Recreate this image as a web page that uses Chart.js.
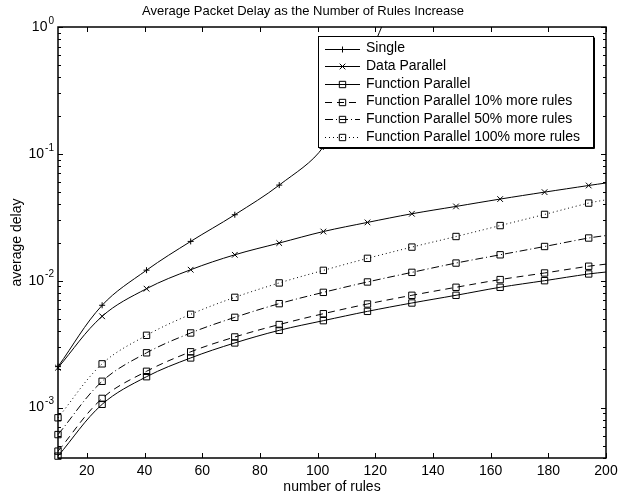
<!DOCTYPE html>
<html>
<head>
<meta charset="utf-8">
<script src="https://cdn.jsdelivr.net/npm/chart.js@4/dist/chart.umd.min.js"></script>
<style>
  body { margin: 0; background: #fff; }
  canvas { display: block; }
</style>
</head>
<body>
<canvas id="viz" width="618" height="497"></canvas>
<script>
// rules on the x axis (last entry only closes the lines at the right edge, no marker)
const rules = [10, 25.3, 40.7, 56, 71.3, 86.7, 102, 117.3, 132.7, 148, 163.3, 178.7, 194, 200];

// average delay per configuration
const single = [0.0021, 0.0064, 0.0121, 0.0204, 0.0331, 0.0567, 0.1135, 0.55, 4];
const dataParallel = [0.00206, 0.00524, 0.00865, 0.0122, 0.0160, 0.0198, 0.0244, 0.0288, 0.0337, 0.0385, 0.0440, 0.0499, 0.0563, 0.0589];
const funcParallel = [0.000414, 0.00106, 0.00175, 0.00246, 0.00323, 0.00406, 0.00484, 0.00573, 0.00667, 0.00767, 0.00887, 0.0100, 0.0113, 0.0117];
const funcParallel10 = [0.000453, 0.00118, 0.00193, 0.00275, 0.00360, 0.00451, 0.00549, 0.00655, 0.00767, 0.00887, 0.0102, 0.0115, 0.0130, 0.0135];
const funcParallel50 = [0.000612, 0.00161, 0.00270, 0.00387, 0.00514, 0.00659, 0.00809, 0.00977, 0.01163, 0.01377, 0.0160, 0.0186, 0.0217, 0.0227];
const funcParallel100 = [0.00083, 0.00221, 0.00371, 0.00543, 0.00739, 0.00960, 0.01206, 0.0150, 0.0184, 0.0223, 0.0272, 0.0333, 0.0409, 0.0434];

const seriesNames = ['Single', 'Data Parallel', 'Function Parallel', 'Function Parallel 10% more rules', 'Function Parallel 50% more rules', 'Function Parallel 100% more rules'];

// tick labels
const xTicks = [20, 40, 60, 80, 100, 120, 140, 160, 180, 200];
const yTicks = [0.001, 0.01, 0.1, 1];
const yTickLabels = ['10^-3', '10^-2', '10^-1', '10^0'];

const FONT = "'Liberation Sans', Arial, Helvetica, sans-serif";
Chart.defaults.font.family = FONT;
Chart.defaults.color = '#000';

function toPoints(values) {
  return values.map((v, i) => ({ x: rules[i], y: v }));
}

// marker + line style for each series
const styles = [
  { pointStyle: 'cross', radius: 3, dash: [] },
  { pointStyle: 'crossRot', radius: 4, dash: [] },
  { pointStyle: 'rect', radius: 4.5, dash: [] },
  { pointStyle: 'rect', radius: 4.5, dash: [7, 5] },
  { pointStyle: 'rect', radius: 4.5, dash: [8, 3, 1, 3] },
  { pointStyle: 'rect', radius: 4.5, dash: [1, 3] }
];
const allValues = [single, dataParallel, funcParallel, funcParallel10, funcParallel50, funcParallel100];

const datasets = allValues.map((vals, k) => ({
  label: seriesNames[k],
  data: toPoints(vals),
  borderColor: '#000',
  borderWidth: 1,
  borderDash: styles[k].dash,
  pointStyle: styles[k].pointStyle,
  pointRadius: ctx => (ctx.dataIndex === rules.length - 1 ? 0 : styles[k].radius),
  pointBorderColor: '#000',
  pointBackgroundColor: 'rgba(0,0,0,0)',
  pointBorderWidth: 1,
  tension: 0.35,
  fill: false,
  clip: { left: 8, top: 0, right: 8, bottom: 8 }
}));

// MATLAB style box, inward ticks, superscript y labels and the legend inside the axes
const frame = {
  id: 'frame',
  afterDatasetsDraw(chart) {
    const { ctx, chartArea: a, scales: { x, y } } = chart;
    ctx.save();
    ctx.strokeStyle = '#000';
    ctx.lineWidth = 1;
    ctx.setLineDash([]);
    ctx.beginPath();
    xTicks.forEach(v => {
      const px = Math.round(x.getPixelForValue(v)) + 0.5;
      ctx.moveTo(px, a.bottom); ctx.lineTo(px, a.bottom - 5);
      ctx.moveTo(px, a.top); ctx.lineTo(px, a.top + 5);
    });
    [0.0001, 0.001, 0.01, 0.1, 1].forEach(d => {
      for (let m = 1; m <= 9; m++) {
        const v = d * m;
        if (v < y.min * 0.999 || v > y.max * 1.001) continue;
        const py = Math.round(y.getPixelForValue(v)) + 0.5;
        const len = m === 1 ? 5 : 3;
        ctx.moveTo(a.left, py); ctx.lineTo(a.left + len, py);
        ctx.moveTo(a.right, py); ctx.lineTo(a.right - len, py);
      }
    });
    ctx.stroke();
    ctx.lineWidth = 1.5;
    ctx.strokeRect(a.left, a.top, a.right - a.left, a.bottom - a.top);

    // y tick labels with superscript exponents
    ctx.fillStyle = '#000';
    ctx.textBaseline = 'middle';
    yTicks.forEach((v, i) => {
      const [base, exp] = yTickLabels[i].split('^');
      const py = y.getPixelForValue(v);
      ctx.font = '10px ' + FONT;
      const ew = ctx.measureText(exp).width;
      const xEnd = a.left - 4;
      ctx.textAlign = 'left';
      ctx.fillText(exp, xEnd - ew, py - 6);
      ctx.font = '14px ' + FONT;
      ctx.textAlign = 'right';
      ctx.fillText(base, xEnd - ew - 1, py);
    });

    // legend box
    const w = 275, h = 111;
    const lx = a.right - 13 - w, ly = a.top + 9;
    ctx.fillStyle = '#fff';
    ctx.fillRect(lx, ly, w, h);
    ctx.lineWidth = 1;
    ctx.strokeRect(lx + 0.5, ly + 0.5, w, h);
    ctx.beginPath();
    ctx.moveTo(lx + 1.5, ly + h + 1.5); ctx.lineTo(lx + w + 1.5, ly + h + 1.5); ctx.lineTo(lx + w + 1.5, ly + 1.5);
    ctx.stroke();
    ctx.font = '14px ' + FONT;
    ctx.textAlign = 'left';
    ctx.textBaseline = 'middle';
    chart.data.datasets.forEach((ds, i) => {
      const ry = ly + 12.5 + i * 17.7;
      ctx.strokeStyle = '#000';
      ctx.lineWidth = 1;
      ctx.setLineDash(styles[i].dash);
      ctx.beginPath();
      ctx.moveTo(lx + 7, Math.round(ry) + 0.5);
      ctx.lineTo(lx + 42, Math.round(ry) + 0.5);
      ctx.stroke();
      ctx.setLineDash([]);
      ctx.fillStyle = 'rgba(0,0,0,0)';
      Chart.helpers.drawPoint(ctx, { pointStyle: styles[i].pointStyle, radius: styles[i].radius, rotation: 0, borderWidth: 1 }, lx + 24.5, Math.round(ry) + 0.5);
      ctx.fillStyle = '#000';
      ctx.fillText(ds.label, lx + 48, ry);
    });
    ctx.restore();
  }
};

new Chart(document.getElementById('viz'), {
  type: 'line',
  data: { datasets },
  options: {
    responsive: false,
    animation: false,
    events: [],
    devicePixelRatio: 1,
    layout: { padding: { left: 0, right: 12, top: 0, bottom: 0 } },
    plugins: {
      legend: { display: false },
      tooltip: { enabled: false },
      title: {
        display: true,
        text: 'Average Packet Delay as the Number of Rules Increase',
        font: { size: 13, weight: 'normal' },
        color: '#000',
        padding: { top: 4, bottom: 7.4 }
      }
    },
    scales: {
      x: {
        type: 'linear',
        min: 10,
        max: 200,
        afterBuildTicks: s => { s.ticks = xTicks.map(v => ({ value: v })); },
        afterFit: s => { s.height = 39; s.paddingLeft = 0; s.paddingRight = 0; },
        ticks: { autoSkip: false, maxRotation: 0, padding: 5, font: { size: 14 }, color: '#000' },
        grid: { display: false, drawTicks: false },
        border: { display: false },
        title: { display: true, text: 'number of rules', font: { size: 14 }, color: '#000', padding: { top: 0, bottom: 1 } }
      },
      y: {
        type: 'logarithmic',
        min: 0.0004,
        max: 1,
        afterFit: s => { s.width = 58; s.paddingTop = 0; s.paddingBottom = 0; },
        ticks: { display: false },
        grid: { display: false, drawTicks: false },
        border: { display: false },
        title: { display: true, text: 'average delay', font: { size: 14 }, color: '#000', padding: { top: 9, bottom: 0 } }
      }
    }
  },
  plugins: [frame]
});
</script>
</body>
</html>
